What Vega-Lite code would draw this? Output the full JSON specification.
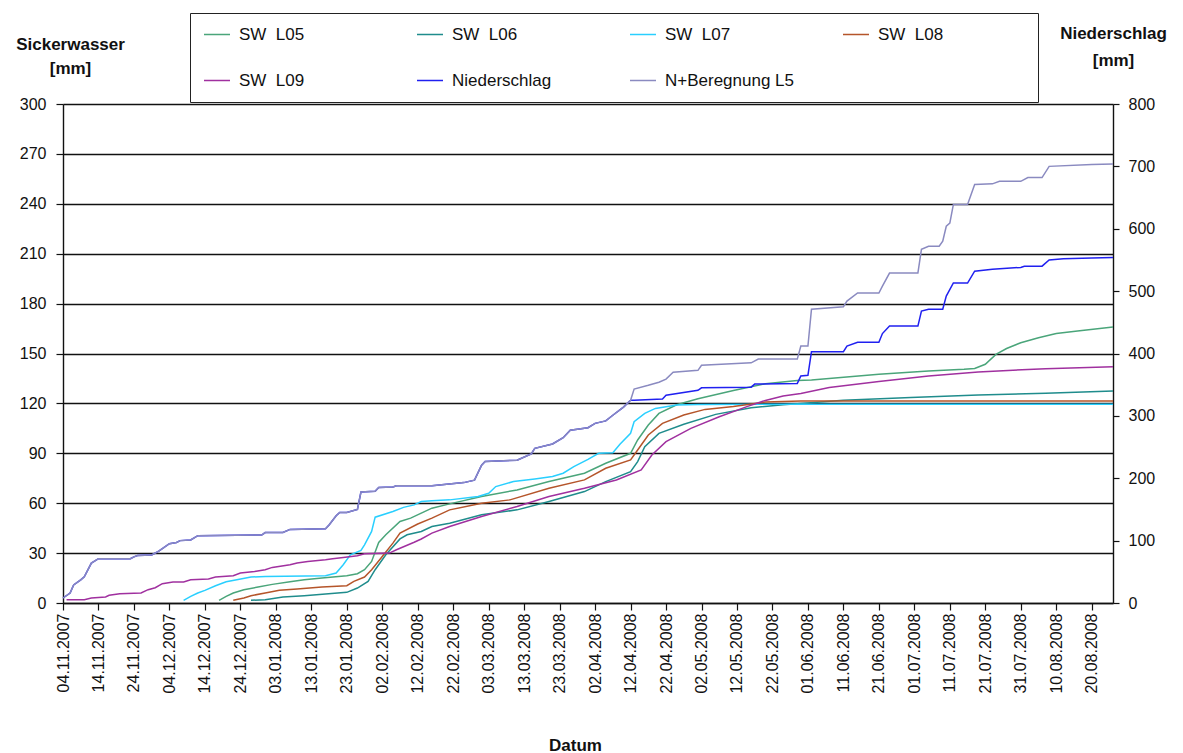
{
  "$schema": "https://vega.github.io/schema/vega-lite/v6.json",
  "width": 1050,
  "height": 499,
  "autosize": {"type": "none"},
  "padding": {"left": 63, "top": 104, "right": 70, "bottom": 150},
  "background": "white",
  "config": {
    "view": {"stroke": null},
    "font": "Liberation Sans",
    "axis": {
      "domainColor": "#111111",
      "domainWidth": 1.4,
      "tickColor": "#111111",
      "tickWidth": 1.2,
      "labelFont": "Liberation Sans",
      "labelFontSize": 16,
      "labelColor": "#111111",
      "labelOverlap": false,
      "labelFlush": false,
      "titleFont": "Liberation Sans",
      "titleFontSize": 17,
      "titleFontWeight": "bold",
      "titleColor": "#111111"
    },
    "legend": {
      "orient": "none",
      "legendX": 127,
      "legendY": -91,
      "direction": "horizontal",
      "columns": 4,
      "gridAlign": "all",
      "columnPadding": 47,
      "rowPadding": 28,
      "clipHeight": 17,
      "padding": 13,
      "strokeColor": "#222222",
      "fillColor": "white",
      "symbolType": "stroke",
      "symbolSize": 676,
      "symbolStrokeWidth": 1.5,
      "labelFont": "Liberation Sans",
      "labelFontSize": 17,
      "labelColor": "#111111",
      "labelOffset": 8,
      "titleOrient": "right",
      "titleFontSize": 10,
      "titlePadding": 82
    }
  },
  "datasets": {
    "sickerwasser": [
      {"date": "2007-12-18", "series": "SW  L05", "mm": 1.6},
      {"date": "2007-12-20", "series": "SW  L05", "mm": 4},
      {"date": "2007-12-22", "series": "SW  L05", "mm": 6},
      {"date": "2007-12-25", "series": "SW  L05", "mm": 8},
      {"date": "2007-12-29", "series": "SW  L05", "mm": 9.6},
      {"date": "2008-01-02", "series": "SW  L05", "mm": 11.2},
      {"date": "2008-01-07", "series": "SW  L05", "mm": 12.8},
      {"date": "2008-01-11", "series": "SW  L05", "mm": 14},
      {"date": "2008-01-16", "series": "SW  L05", "mm": 15},
      {"date": "2008-01-23", "series": "SW  L05", "mm": 16.4},
      {"date": "2008-01-26", "series": "SW  L05", "mm": 17.6},
      {"date": "2008-01-28", "series": "SW  L05", "mm": 20},
      {"date": "2008-01-30", "series": "SW  L05", "mm": 25},
      {"date": "2008-02-01", "series": "SW  L05", "mm": 36.4},
      {"date": "2008-02-03", "series": "SW  L05", "mm": 41},
      {"date": "2008-02-07", "series": "SW  L05", "mm": 49},
      {"date": "2008-02-10", "series": "SW  L05", "mm": 51},
      {"date": "2008-02-13", "series": "SW  L05", "mm": 54},
      {"date": "2008-02-16", "series": "SW  L05", "mm": 57},
      {"date": "2008-02-21", "series": "SW  L05", "mm": 59.6},
      {"date": "2008-03-01", "series": "SW  L05", "mm": 64},
      {"date": "2008-03-11", "series": "SW  L05", "mm": 68},
      {"date": "2008-03-20", "series": "SW  L05", "mm": 73},
      {"date": "2008-03-30", "series": "SW  L05", "mm": 78},
      {"date": "2008-04-05", "series": "SW  L05", "mm": 84},
      {"date": "2008-04-12", "series": "SW  L05", "mm": 90},
      {"date": "2008-04-14", "series": "SW  L05", "mm": 98},
      {"date": "2008-04-17", "series": "SW  L05", "mm": 107},
      {"date": "2008-04-20", "series": "SW  L05", "mm": 114},
      {"date": "2008-04-25", "series": "SW  L05", "mm": 119.2},
      {"date": "2008-05-01", "series": "SW  L05", "mm": 122.8},
      {"date": "2008-05-11", "series": "SW  L05", "mm": 127.8},
      {"date": "2008-05-20", "series": "SW  L05", "mm": 131.8},
      {"date": "2008-05-29", "series": "SW  L05", "mm": 133.8},
      {"date": "2008-06-02", "series": "SW  L05", "mm": 134},
      {"date": "2008-06-21", "series": "SW  L05", "mm": 137.5},
      {"date": "2008-07-05", "series": "SW  L05", "mm": 139.5},
      {"date": "2008-07-15", "series": "SW  L05", "mm": 140.5},
      {"date": "2008-07-18", "series": "SW  L05", "mm": 141},
      {"date": "2008-07-21", "series": "SW  L05", "mm": 143.5},
      {"date": "2008-07-24", "series": "SW  L05", "mm": 149.5},
      {"date": "2008-07-27", "series": "SW  L05", "mm": 153},
      {"date": "2008-07-31", "series": "SW  L05", "mm": 156.5},
      {"date": "2008-08-05", "series": "SW  L05", "mm": 159.5},
      {"date": "2008-08-10", "series": "SW  L05", "mm": 162},
      {"date": "2008-08-16", "series": "SW  L05", "mm": 163.5},
      {"date": "2008-08-26", "series": "SW  L05", "mm": 166},

      {"date": "2007-12-27", "series": "SW  L06", "mm": 1.6},
      {"date": "2007-12-31", "series": "SW  L06", "mm": 2},
      {"date": "2008-01-05", "series": "SW  L06", "mm": 3.6},
      {"date": "2008-01-11", "series": "SW  L06", "mm": 4.4},
      {"date": "2008-01-17", "series": "SW  L06", "mm": 5.4},
      {"date": "2008-01-23", "series": "SW  L06", "mm": 6.4},
      {"date": "2008-01-26", "series": "SW  L06", "mm": 9},
      {"date": "2008-01-29", "series": "SW  L06", "mm": 13},
      {"date": "2008-01-31", "series": "SW  L06", "mm": 20},
      {"date": "2008-02-03", "series": "SW  L06", "mm": 29},
      {"date": "2008-02-07", "series": "SW  L06", "mm": 38.5},
      {"date": "2008-02-09", "series": "SW  L06", "mm": 41},
      {"date": "2008-02-13", "series": "SW  L06", "mm": 43},
      {"date": "2008-02-16", "series": "SW  L06", "mm": 46},
      {"date": "2008-02-21", "series": "SW  L06", "mm": 48},
      {"date": "2008-03-01", "series": "SW  L06", "mm": 53},
      {"date": "2008-03-11", "series": "SW  L06", "mm": 56},
      {"date": "2008-03-20", "series": "SW  L06", "mm": 61},
      {"date": "2008-03-30", "series": "SW  L06", "mm": 67},
      {"date": "2008-04-05", "series": "SW  L06", "mm": 73},
      {"date": "2008-04-12", "series": "SW  L06", "mm": 79},
      {"date": "2008-04-14", "series": "SW  L06", "mm": 85},
      {"date": "2008-04-16", "series": "SW  L06", "mm": 94},
      {"date": "2008-04-20", "series": "SW  L06", "mm": 102},
      {"date": "2008-04-27", "series": "SW  L06", "mm": 107.5},
      {"date": "2008-05-06", "series": "SW  L06", "mm": 113.4},
      {"date": "2008-05-16", "series": "SW  L06", "mm": 117.4},
      {"date": "2008-05-25", "series": "SW  L06", "mm": 119.2},
      {"date": "2008-05-30", "series": "SW  L06", "mm": 120},
      {"date": "2008-06-11", "series": "SW  L06", "mm": 121.9},
      {"date": "2008-06-30", "series": "SW  L06", "mm": 123.5},
      {"date": "2008-07-19", "series": "SW  L06", "mm": 125.1},
      {"date": "2008-08-07", "series": "SW  L06", "mm": 126.1},
      {"date": "2008-08-26", "series": "SW  L06", "mm": 127.5},

      {"date": "2007-12-08", "series": "SW  L07", "mm": 1.6},
      {"date": "2007-12-10", "series": "SW  L07", "mm": 4},
      {"date": "2007-12-12", "series": "SW  L07", "mm": 6},
      {"date": "2007-12-14", "series": "SW  L07", "mm": 7.6},
      {"date": "2007-12-17", "series": "SW  L07", "mm": 10.4},
      {"date": "2007-12-20", "series": "SW  L07", "mm": 12.8},
      {"date": "2007-12-23", "series": "SW  L07", "mm": 14},
      {"date": "2007-12-27", "series": "SW  L07", "mm": 15.6},
      {"date": "2007-12-31", "series": "SW  L07", "mm": 16},
      {"date": "2008-01-17", "series": "SW  L07", "mm": 16.4},
      {"date": "2008-01-20", "series": "SW  L07", "mm": 18},
      {"date": "2008-01-22", "series": "SW  L07", "mm": 23},
      {"date": "2008-01-24", "series": "SW  L07", "mm": 29},
      {"date": "2008-01-27", "series": "SW  L07", "mm": 31.6},
      {"date": "2008-01-28", "series": "SW  L07", "mm": 35},
      {"date": "2008-01-30", "series": "SW  L07", "mm": 43},
      {"date": "2008-01-31", "series": "SW  L07", "mm": 51.6},
      {"date": "2008-02-05", "series": "SW  L07", "mm": 55},
      {"date": "2008-02-08", "series": "SW  L07", "mm": 57.5},
      {"date": "2008-02-11", "series": "SW  L07", "mm": 59},
      {"date": "2008-02-13", "series": "SW  L07", "mm": 61},
      {"date": "2008-02-16", "series": "SW  L07", "mm": 61.5},
      {"date": "2008-02-21", "series": "SW  L07", "mm": 62},
      {"date": "2008-02-29", "series": "SW  L07", "mm": 64},
      {"date": "2008-03-03", "series": "SW  L07", "mm": 66},
      {"date": "2008-03-05", "series": "SW  L07", "mm": 70},
      {"date": "2008-03-10", "series": "SW  L07", "mm": 73},
      {"date": "2008-03-16", "series": "SW  L07", "mm": 74.6},
      {"date": "2008-03-21", "series": "SW  L07", "mm": 76},
      {"date": "2008-03-24", "series": "SW  L07", "mm": 78},
      {"date": "2008-03-27", "series": "SW  L07", "mm": 82},
      {"date": "2008-03-31", "series": "SW  L07", "mm": 86.3},
      {"date": "2008-04-03", "series": "SW  L07", "mm": 90},
      {"date": "2008-04-07", "series": "SW  L07", "mm": 90.3},
      {"date": "2008-04-09", "series": "SW  L07", "mm": 95.5},
      {"date": "2008-04-12", "series": "SW  L07", "mm": 102},
      {"date": "2008-04-13", "series": "SW  L07", "mm": 109},
      {"date": "2008-04-16", "series": "SW  L07", "mm": 114},
      {"date": "2008-04-19", "series": "SW  L07", "mm": 117},
      {"date": "2008-04-25", "series": "SW  L07", "mm": 119},
      {"date": "2008-05-01", "series": "SW  L07", "mm": 119.4},
      {"date": "2008-08-26", "series": "SW  L07", "mm": 119.5},

      {"date": "2007-12-22", "series": "SW  L08", "mm": 1.6},
      {"date": "2007-12-25", "series": "SW  L08", "mm": 3},
      {"date": "2007-12-27", "series": "SW  L08", "mm": 4.4},
      {"date": "2007-12-31", "series": "SW  L08", "mm": 6},
      {"date": "2008-01-04", "series": "SW  L08", "mm": 7.6},
      {"date": "2008-01-09", "series": "SW  L08", "mm": 8.4},
      {"date": "2008-01-16", "series": "SW  L08", "mm": 9.6},
      {"date": "2008-01-23", "series": "SW  L08", "mm": 10.4},
      {"date": "2008-01-25", "series": "SW  L08", "mm": 13},
      {"date": "2008-01-28", "series": "SW  L08", "mm": 15.6},
      {"date": "2008-01-30", "series": "SW  L08", "mm": 20},
      {"date": "2008-02-02", "series": "SW  L08", "mm": 28},
      {"date": "2008-02-05", "series": "SW  L08", "mm": 36},
      {"date": "2008-02-07", "series": "SW  L08", "mm": 42},
      {"date": "2008-02-12", "series": "SW  L08", "mm": 47.5},
      {"date": "2008-02-16", "series": "SW  L08", "mm": 51},
      {"date": "2008-02-21", "series": "SW  L08", "mm": 56},
      {"date": "2008-03-01", "series": "SW  L08", "mm": 60},
      {"date": "2008-03-09", "series": "SW  L08", "mm": 62},
      {"date": "2008-03-20", "series": "SW  L08", "mm": 69},
      {"date": "2008-03-30", "series": "SW  L08", "mm": 74},
      {"date": "2008-04-05", "series": "SW  L08", "mm": 81},
      {"date": "2008-04-12", "series": "SW  L08", "mm": 86},
      {"date": "2008-04-14", "series": "SW  L08", "mm": 92},
      {"date": "2008-04-17", "series": "SW  L08", "mm": 101},
      {"date": "2008-04-21", "series": "SW  L08", "mm": 108},
      {"date": "2008-04-27", "series": "SW  L08", "mm": 113},
      {"date": "2008-05-03", "series": "SW  L08", "mm": 116.4},
      {"date": "2008-05-11", "series": "SW  L08", "mm": 118.2},
      {"date": "2008-05-20", "series": "SW  L08", "mm": 120.8},
      {"date": "2008-05-30", "series": "SW  L08", "mm": 121.5},
      {"date": "2008-08-26", "series": "SW  L08", "mm": 121.5},

      {"date": "2007-11-05", "series": "SW  L09", "mm": 2},
      {"date": "2007-11-10", "series": "SW  L09", "mm": 2},
      {"date": "2007-11-12", "series": "SW  L09", "mm": 3},
      {"date": "2007-11-16", "series": "SW  L09", "mm": 3.6},
      {"date": "2007-11-17", "series": "SW  L09", "mm": 4.6},
      {"date": "2007-11-20", "series": "SW  L09", "mm": 5.6},
      {"date": "2007-11-26", "series": "SW  L09", "mm": 6},
      {"date": "2007-11-28", "series": "SW  L09", "mm": 8},
      {"date": "2007-11-30", "series": "SW  L09", "mm": 9.2},
      {"date": "2007-12-02", "series": "SW  L09", "mm": 11.6},
      {"date": "2007-12-05", "series": "SW  L09", "mm": 12.6},
      {"date": "2007-12-08", "series": "SW  L09", "mm": 12.6},
      {"date": "2007-12-10", "series": "SW  L09", "mm": 14},
      {"date": "2007-12-15", "series": "SW  L09", "mm": 14.4},
      {"date": "2007-12-17", "series": "SW  L09", "mm": 15.6},
      {"date": "2007-12-22", "series": "SW  L09", "mm": 16.4},
      {"date": "2007-12-24", "series": "SW  L09", "mm": 18},
      {"date": "2007-12-28", "series": "SW  L09", "mm": 19},
      {"date": "2007-12-31", "series": "SW  L09", "mm": 20},
      {"date": "2008-01-02", "series": "SW  L09", "mm": 21.4},
      {"date": "2008-01-07", "series": "SW  L09", "mm": 23},
      {"date": "2008-01-09", "series": "SW  L09", "mm": 24},
      {"date": "2008-01-12", "series": "SW  L09", "mm": 25},
      {"date": "2008-01-17", "series": "SW  L09", "mm": 26},
      {"date": "2008-01-19", "series": "SW  L09", "mm": 26.6},
      {"date": "2008-01-22", "series": "SW  L09", "mm": 27.4},
      {"date": "2008-01-26", "series": "SW  L09", "mm": 28.4},
      {"date": "2008-01-28", "series": "SW  L09", "mm": 29.6},
      {"date": "2008-02-04", "series": "SW  L09", "mm": 30},
      {"date": "2008-02-06", "series": "SW  L09", "mm": 32},
      {"date": "2008-02-11", "series": "SW  L09", "mm": 36.5},
      {"date": "2008-02-13", "series": "SW  L09", "mm": 38.5},
      {"date": "2008-02-16", "series": "SW  L09", "mm": 42},
      {"date": "2008-02-21", "series": "SW  L09", "mm": 46},
      {"date": "2008-03-01", "series": "SW  L09", "mm": 52},
      {"date": "2008-03-11", "series": "SW  L09", "mm": 58},
      {"date": "2008-03-20", "series": "SW  L09", "mm": 64},
      {"date": "2008-03-30", "series": "SW  L09", "mm": 69},
      {"date": "2008-04-08", "series": "SW  L09", "mm": 74},
      {"date": "2008-04-15", "series": "SW  L09", "mm": 80},
      {"date": "2008-04-18", "series": "SW  L09", "mm": 89},
      {"date": "2008-04-22", "series": "SW  L09", "mm": 97},
      {"date": "2008-04-29", "series": "SW  L09", "mm": 105},
      {"date": "2008-05-07", "series": "SW  L09", "mm": 112},
      {"date": "2008-05-15", "series": "SW  L09", "mm": 118.2},
      {"date": "2008-05-20", "series": "SW  L09", "mm": 121.8},
      {"date": "2008-05-25", "series": "SW  L09", "mm": 124.5},
      {"date": "2008-05-30", "series": "SW  L09", "mm": 126},
      {"date": "2008-06-07", "series": "SW  L09", "mm": 129.5},
      {"date": "2008-06-21", "series": "SW  L09", "mm": 133.1},
      {"date": "2008-07-05", "series": "SW  L09", "mm": 136.5},
      {"date": "2008-07-19", "series": "SW  L09", "mm": 138.9},
      {"date": "2008-08-07", "series": "SW  L09", "mm": 140.9},
      {"date": "2008-08-26", "series": "SW  L09", "mm": 142}
    ],
    "niederschlag": [
      {"date": "2007-11-04", "series": "Niederschlag", "mm": 8},
      {"date": "2007-11-06", "series": "Niederschlag", "mm": 16},
      {"date": "2007-11-07", "series": "Niederschlag", "mm": 29},
      {"date": "2007-11-09", "series": "Niederschlag", "mm": 37},
      {"date": "2007-11-10", "series": "Niederschlag", "mm": 42},
      {"date": "2007-11-12", "series": "Niederschlag", "mm": 64},
      {"date": "2007-11-14", "series": "Niederschlag", "mm": 71},
      {"date": "2007-11-23", "series": "Niederschlag", "mm": 71},
      {"date": "2007-11-24", "series": "Niederschlag", "mm": 74},
      {"date": "2007-11-25", "series": "Niederschlag", "mm": 76},
      {"date": "2007-11-29", "series": "Niederschlag", "mm": 77},
      {"date": "2007-12-01", "series": "Niederschlag", "mm": 83},
      {"date": "2007-12-04", "series": "Niederschlag", "mm": 95},
      {"date": "2007-12-06", "series": "Niederschlag", "mm": 97},
      {"date": "2007-12-07", "series": "Niederschlag", "mm": 100},
      {"date": "2007-12-10", "series": "Niederschlag", "mm": 101},
      {"date": "2007-12-12", "series": "Niederschlag", "mm": 108},
      {"date": "2007-12-30", "series": "Niederschlag", "mm": 109},
      {"date": "2007-12-31", "series": "Niederschlag", "mm": 113},
      {"date": "2008-01-05", "series": "Niederschlag", "mm": 113},
      {"date": "2008-01-07", "series": "Niederschlag", "mm": 118},
      {"date": "2008-01-17", "series": "Niederschlag", "mm": 119},
      {"date": "2008-01-18", "series": "Niederschlag", "mm": 125},
      {"date": "2008-01-20", "series": "Niederschlag", "mm": 140},
      {"date": "2008-01-21", "series": "Niederschlag", "mm": 145},
      {"date": "2008-01-23", "series": "Niederschlag", "mm": 145},
      {"date": "2008-01-26", "series": "Niederschlag", "mm": 150},
      {"date": "2008-01-27", "series": "Niederschlag", "mm": 178},
      {"date": "2008-01-31", "series": "Niederschlag", "mm": 179},
      {"date": "2008-02-01", "series": "Niederschlag", "mm": 185},
      {"date": "2008-02-05", "series": "Niederschlag", "mm": 186},
      {"date": "2008-02-06", "series": "Niederschlag", "mm": 188},
      {"date": "2008-02-16", "series": "Niederschlag", "mm": 188},
      {"date": "2008-02-25", "series": "Niederschlag", "mm": 193},
      {"date": "2008-02-28", "series": "Niederschlag", "mm": 197},
      {"date": "2008-03-01", "series": "Niederschlag", "mm": 221},
      {"date": "2008-03-02", "series": "Niederschlag", "mm": 227},
      {"date": "2008-03-11", "series": "Niederschlag", "mm": 229},
      {"date": "2008-03-15", "series": "Niederschlag", "mm": 239},
      {"date": "2008-03-16", "series": "Niederschlag", "mm": 248},
      {"date": "2008-03-21", "series": "Niederschlag", "mm": 255},
      {"date": "2008-03-24", "series": "Niederschlag", "mm": 265},
      {"date": "2008-03-26", "series": "Niederschlag", "mm": 277},
      {"date": "2008-03-31", "series": "Niederschlag", "mm": 281},
      {"date": "2008-04-02", "series": "Niederschlag", "mm": 288},
      {"date": "2008-04-05", "series": "Niederschlag", "mm": 292},
      {"date": "2008-04-07", "series": "Niederschlag", "mm": 301},
      {"date": "2008-04-10", "series": "Niederschlag", "mm": 314},
      {"date": "2008-04-12", "series": "Niederschlag", "mm": 325},
      {"date": "2008-04-13", "series": "Niederschlag", "mm": 325},
      {"date": "2008-04-21", "series": "Niederschlag", "mm": 327},
      {"date": "2008-04-22", "series": "Niederschlag", "mm": 333},
      {"date": "2008-05-01", "series": "Niederschlag", "mm": 341},
      {"date": "2008-05-02", "series": "Niederschlag", "mm": 345},
      {"date": "2008-05-16", "series": "Niederschlag", "mm": 346},
      {"date": "2008-05-17", "series": "Niederschlag", "mm": 351},
      {"date": "2008-05-29", "series": "Niederschlag", "mm": 352},
      {"date": "2008-05-30", "series": "Niederschlag", "mm": 364},
      {"date": "2008-06-01", "series": "Niederschlag", "mm": 365},
      {"date": "2008-06-02", "series": "Niederschlag", "mm": 403},
      {"date": "2008-06-11", "series": "Niederschlag", "mm": 403},
      {"date": "2008-06-12", "series": "Niederschlag", "mm": 412},
      {"date": "2008-06-15", "series": "Niederschlag", "mm": 418},
      {"date": "2008-06-21", "series": "Niederschlag", "mm": 418},
      {"date": "2008-06-22", "series": "Niederschlag", "mm": 432},
      {"date": "2008-06-24", "series": "Niederschlag", "mm": 444},
      {"date": "2008-07-02", "series": "Niederschlag", "mm": 444},
      {"date": "2008-07-03", "series": "Niederschlag", "mm": 468},
      {"date": "2008-07-05", "series": "Niederschlag", "mm": 471},
      {"date": "2008-07-09", "series": "Niederschlag", "mm": 471},
      {"date": "2008-07-10", "series": "Niederschlag", "mm": 492},
      {"date": "2008-07-12", "series": "Niederschlag", "mm": 513},
      {"date": "2008-07-16", "series": "Niederschlag", "mm": 513},
      {"date": "2008-07-18", "series": "Niederschlag", "mm": 532},
      {"date": "2008-07-23", "series": "Niederschlag", "mm": 535},
      {"date": "2008-07-31", "series": "Niederschlag", "mm": 538},
      {"date": "2008-08-01", "series": "Niederschlag", "mm": 540},
      {"date": "2008-08-06", "series": "Niederschlag", "mm": 540},
      {"date": "2008-08-08", "series": "Niederschlag", "mm": 550},
      {"date": "2008-08-12", "series": "Niederschlag", "mm": 552},
      {"date": "2008-08-20", "series": "Niederschlag", "mm": 553},
      {"date": "2008-08-26", "series": "Niederschlag", "mm": 554}
    ],
    "beregnung": [
      {"date": "2007-11-04", "series": "N+Beregnung L5", "mm": 8},
      {"date": "2007-11-06", "series": "N+Beregnung L5", "mm": 16},
      {"date": "2007-11-07", "series": "N+Beregnung L5", "mm": 29},
      {"date": "2007-11-09", "series": "N+Beregnung L5", "mm": 37},
      {"date": "2007-11-10", "series": "N+Beregnung L5", "mm": 42},
      {"date": "2007-11-12", "series": "N+Beregnung L5", "mm": 64},
      {"date": "2007-11-14", "series": "N+Beregnung L5", "mm": 71},
      {"date": "2007-11-23", "series": "N+Beregnung L5", "mm": 71},
      {"date": "2007-11-24", "series": "N+Beregnung L5", "mm": 74},
      {"date": "2007-11-25", "series": "N+Beregnung L5", "mm": 76},
      {"date": "2007-11-29", "series": "N+Beregnung L5", "mm": 77},
      {"date": "2007-12-01", "series": "N+Beregnung L5", "mm": 83},
      {"date": "2007-12-04", "series": "N+Beregnung L5", "mm": 95},
      {"date": "2007-12-06", "series": "N+Beregnung L5", "mm": 97},
      {"date": "2007-12-07", "series": "N+Beregnung L5", "mm": 100},
      {"date": "2007-12-10", "series": "N+Beregnung L5", "mm": 101},
      {"date": "2007-12-12", "series": "N+Beregnung L5", "mm": 108},
      {"date": "2007-12-30", "series": "N+Beregnung L5", "mm": 109},
      {"date": "2007-12-31", "series": "N+Beregnung L5", "mm": 113},
      {"date": "2008-01-05", "series": "N+Beregnung L5", "mm": 113},
      {"date": "2008-01-07", "series": "N+Beregnung L5", "mm": 118},
      {"date": "2008-01-17", "series": "N+Beregnung L5", "mm": 119},
      {"date": "2008-01-18", "series": "N+Beregnung L5", "mm": 125},
      {"date": "2008-01-20", "series": "N+Beregnung L5", "mm": 140},
      {"date": "2008-01-21", "series": "N+Beregnung L5", "mm": 145},
      {"date": "2008-01-23", "series": "N+Beregnung L5", "mm": 145},
      {"date": "2008-01-26", "series": "N+Beregnung L5", "mm": 150},
      {"date": "2008-01-27", "series": "N+Beregnung L5", "mm": 178},
      {"date": "2008-01-31", "series": "N+Beregnung L5", "mm": 179},
      {"date": "2008-02-01", "series": "N+Beregnung L5", "mm": 185},
      {"date": "2008-02-05", "series": "N+Beregnung L5", "mm": 186},
      {"date": "2008-02-06", "series": "N+Beregnung L5", "mm": 188},
      {"date": "2008-02-16", "series": "N+Beregnung L5", "mm": 188},
      {"date": "2008-02-25", "series": "N+Beregnung L5", "mm": 193},
      {"date": "2008-02-28", "series": "N+Beregnung L5", "mm": 197},
      {"date": "2008-03-01", "series": "N+Beregnung L5", "mm": 221},
      {"date": "2008-03-02", "series": "N+Beregnung L5", "mm": 227},
      {"date": "2008-03-11", "series": "N+Beregnung L5", "mm": 229},
      {"date": "2008-03-15", "series": "N+Beregnung L5", "mm": 239},
      {"date": "2008-03-16", "series": "N+Beregnung L5", "mm": 248},
      {"date": "2008-03-21", "series": "N+Beregnung L5", "mm": 255},
      {"date": "2008-03-24", "series": "N+Beregnung L5", "mm": 265},
      {"date": "2008-03-26", "series": "N+Beregnung L5", "mm": 277},
      {"date": "2008-03-31", "series": "N+Beregnung L5", "mm": 281},
      {"date": "2008-04-02", "series": "N+Beregnung L5", "mm": 288},
      {"date": "2008-04-05", "series": "N+Beregnung L5", "mm": 292},
      {"date": "2008-04-07", "series": "N+Beregnung L5", "mm": 301},
      {"date": "2008-04-10", "series": "N+Beregnung L5", "mm": 314},
      {"date": "2008-04-12", "series": "N+Beregnung L5", "mm": 325},
      {"date": "2008-04-13", "series": "N+Beregnung L5", "mm": 343},
      {"date": "2008-04-17", "series": "N+Beregnung L5", "mm": 349},
      {"date": "2008-04-20", "series": "N+Beregnung L5", "mm": 354},
      {"date": "2008-04-22", "series": "N+Beregnung L5", "mm": 359},
      {"date": "2008-04-24", "series": "N+Beregnung L5", "mm": 370},
      {"date": "2008-05-01", "series": "N+Beregnung L5", "mm": 373},
      {"date": "2008-05-02", "series": "N+Beregnung L5", "mm": 381},
      {"date": "2008-05-09", "series": "N+Beregnung L5", "mm": 383},
      {"date": "2008-05-16", "series": "N+Beregnung L5", "mm": 385},
      {"date": "2008-05-18", "series": "N+Beregnung L5", "mm": 391},
      {"date": "2008-05-29", "series": "N+Beregnung L5", "mm": 391},
      {"date": "2008-05-30", "series": "N+Beregnung L5", "mm": 412},
      {"date": "2008-06-01", "series": "N+Beregnung L5", "mm": 412},
      {"date": "2008-06-02", "series": "N+Beregnung L5", "mm": 471},
      {"date": "2008-06-11", "series": "N+Beregnung L5", "mm": 475},
      {"date": "2008-06-12", "series": "N+Beregnung L5", "mm": 484},
      {"date": "2008-06-15", "series": "N+Beregnung L5", "mm": 497},
      {"date": "2008-06-21", "series": "N+Beregnung L5", "mm": 497},
      {"date": "2008-06-22", "series": "N+Beregnung L5", "mm": 508},
      {"date": "2008-06-24", "series": "N+Beregnung L5", "mm": 529},
      {"date": "2008-07-02", "series": "N+Beregnung L5", "mm": 529},
      {"date": "2008-07-03", "series": "N+Beregnung L5", "mm": 567},
      {"date": "2008-07-05", "series": "N+Beregnung L5", "mm": 572},
      {"date": "2008-07-08", "series": "N+Beregnung L5", "mm": 572},
      {"date": "2008-07-09", "series": "N+Beregnung L5", "mm": 580},
      {"date": "2008-07-10", "series": "N+Beregnung L5", "mm": 604},
      {"date": "2008-07-11", "series": "N+Beregnung L5", "mm": 609},
      {"date": "2008-07-12", "series": "N+Beregnung L5", "mm": 639},
      {"date": "2008-07-16", "series": "N+Beregnung L5", "mm": 639},
      {"date": "2008-07-18", "series": "N+Beregnung L5", "mm": 671},
      {"date": "2008-07-23", "series": "N+Beregnung L5", "mm": 672},
      {"date": "2008-07-25", "series": "N+Beregnung L5", "mm": 676},
      {"date": "2008-07-31", "series": "N+Beregnung L5", "mm": 676},
      {"date": "2008-08-02", "series": "N+Beregnung L5", "mm": 682},
      {"date": "2008-08-06", "series": "N+Beregnung L5", "mm": 682},
      {"date": "2008-08-08", "series": "N+Beregnung L5", "mm": 700},
      {"date": "2008-08-20", "series": "N+Beregnung L5", "mm": 703},
      {"date": "2008-08-26", "series": "N+Beregnung L5", "mm": 704}
    ]
  },
  "encoding": {
    "x": {
      "field": "date",
      "type": "temporal",
      "scale": {
        "type": "utc",
        "domain": [
          {"year": 2007, "month": 11, "date": 4, "utc": true},
          {"year": 2008, "month": 8, "date": 26, "utc": true}
        ]
      },
      "axis": {
        "values": [
          {"year": 2007, "month": 11, "date": 4, "utc": true},
          {"year": 2007, "month": 11, "date": 14, "utc": true},
          {"year": 2007, "month": 11, "date": 24, "utc": true},
          {"year": 2007, "month": 12, "date": 4, "utc": true},
          {"year": 2007, "month": 12, "date": 14, "utc": true},
          {"year": 2007, "month": 12, "date": 24, "utc": true},
          {"year": 2008, "month": 1, "date": 3, "utc": true},
          {"year": 2008, "month": 1, "date": 13, "utc": true},
          {"year": 2008, "month": 1, "date": 23, "utc": true},
          {"year": 2008, "month": 2, "date": 2, "utc": true},
          {"year": 2008, "month": 2, "date": 12, "utc": true},
          {"year": 2008, "month": 2, "date": 22, "utc": true},
          {"year": 2008, "month": 3, "date": 3, "utc": true},
          {"year": 2008, "month": 3, "date": 13, "utc": true},
          {"year": 2008, "month": 3, "date": 23, "utc": true},
          {"year": 2008, "month": 4, "date": 2, "utc": true},
          {"year": 2008, "month": 4, "date": 12, "utc": true},
          {"year": 2008, "month": 4, "date": 22, "utc": true},
          {"year": 2008, "month": 5, "date": 2, "utc": true},
          {"year": 2008, "month": 5, "date": 12, "utc": true},
          {"year": 2008, "month": 5, "date": 22, "utc": true},
          {"year": 2008, "month": 6, "date": 1, "utc": true},
          {"year": 2008, "month": 6, "date": 11, "utc": true},
          {"year": 2008, "month": 6, "date": 21, "utc": true},
          {"year": 2008, "month": 7, "date": 1, "utc": true},
          {"year": 2008, "month": 7, "date": 11, "utc": true},
          {"year": 2008, "month": 7, "date": 21, "utc": true},
          {"year": 2008, "month": 7, "date": 31, "utc": true},
          {"year": 2008, "month": 8, "date": 10, "utc": true},
          {"year": 2008, "month": 8, "date": 20, "utc": true}
        ],
        "labelExpr": "utcFormat(datum.value, '%d.%m.%Y')",
        "labelAngle": 270,
        "labelPadding": 3,
        "tickSize": 7,
        "grid": false,
        "title": "Datum",
        "titleAngle": 0,
        "titleX": 512,
        "titleY": 142,
        "titleAlign": "center",
        "titleBaseline": "middle"
      }
    },
    "color": {
      "field": "series",
      "type": "nominal",
      "scale": {
        "domain": ["SW  L05", "SW  L06", "SW  L07", "SW  L08", "SW  L09", "Niederschlag", "N+Beregnung L5"],
        "range": ["#4aa57a", "#1f8c8c", "#29cfff", "#b5552a", "#a0309f", "#2020f0", "#8a8ac0"]
      },
      "legend": {
        "title": "\u00a0",
        "labelExpr": "replace(datum.label, '  ', '\u00a0\u00a0')"
      }
    }
  },
  "layer": [
    {
      "data": {"name": "sickerwasser"},
      "mark": {"type": "line", "strokeWidth": 1.5},
      "encoding": {
        "y": {
          "field": "mm",
          "type": "quantitative",
          "scale": {"domain": [0, 300], "nice": false},
          "axis": {
            "orient": "left",
            "values": [0, 30, 60, 90, 120, 150, 180, 210, 240, 270, 300],
            "grid": true,
            "gridColor": "#111111",
            "gridWidth": 1.4,
            "gridOpacity": 1,
            "tickSize": 7,
            "labelPadding": 10,
            "title": ["Sickerwasser", "[mm]"],
            "titleAngle": 0,
            "titleX": 7,
            "titleY": -60,
            "titleAlign": "center",
            "titleBaseline": "middle",
            "titleLineHeight": 24
          }
        }
      }
    },
    {
      "encoding": {
        "y": {
          "field": "mm",
          "type": "quantitative",
          "scale": {"domain": [0, 800], "nice": false},
          "axis": {
            "orient": "right",
            "values": [0, 100, 200, 300, 400, 500, 600, 700, 800],
            "grid": false,
            "tickSize": 6,
            "labelPadding": 9,
            "title": ["Niederschlag", "[mm]"],
            "titleAngle": 0,
            "titleX": 0,
            "titleY": -71,
            "titleAlign": "center",
            "titleBaseline": "middle",
            "titleLineHeight": 27
          }
        }
      },
      "layer": [
        {
          "data": {"name": "niederschlag"},
          "mark": {"type": "line", "strokeWidth": 1.5}
        },
        {
          "data": {"name": "beregnung"},
          "mark": {"type": "line", "strokeWidth": 1.5}
        }
      ]
    }
  ],
  "resolve": {"scale": {"y": "independent"}}
}
